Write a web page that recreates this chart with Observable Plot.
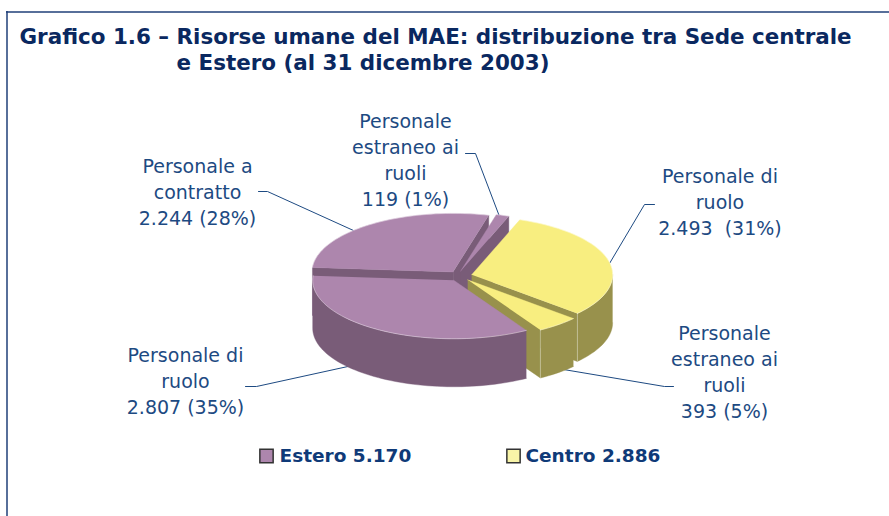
<!DOCTYPE html>
<html lang="it">
<head>
<meta charset="utf-8">
<script src="https://cdn.jsdelivr.net/npm/d3@7"></script>
<script src="https://cdn.jsdelivr.net/npm/@observablehq/plot@0.6"></script>
<style>
html,body{margin:0;padding:0;background:#fff}
svg{display:block}
</style>
</head>
<body>
<div id="chart"></div>
<script>
// ---- data (clockwise, starting from the yellow block) ----
const sliceNames = ["Personale di\nruolo", "Personale\nestraneo ai\nruoli", "Personale di\nruolo", "Personale a\ncontratto", "Personale\nestraneo ai\nruoli"];
const sliceValues = [2493, 393, 2807, 2244, 119];
const sliceGroups = ["Centro", "Centro", "Estero", "Estero", "Estero"];
const groupNames = ["Estero", "Centro"];
const groupTotals = [5170, 2886];
const titleLines = ["Grafico 1.6 – Risorse umane del MAE: distribuzione tra Sede centrale", "e Estero (al 31 dicembre 2003)"];

// ---- styling and layout ----
const W = 889, H = 516;
const topColor = {Estero: "#ad86ad", Centro: "#f8ee80"};
const wallColor = {Estero: "#795c78", Centro: "#98914c"};
const legendColor = {Estero: "#ad86ad", Centro: "#f8f4a8"};
const navy = "#0a2860", blue = "#1d4a82", legendBlue = "#0f3a78";
const pie = {cx: 459.5, cy: 275.5, rx: 141, ry: 58.5, depth: 48, ex: 12, ey: 5, start: 20};
// label centre, leader-line path and small origin nudge, one per slice
const labelLayout = [
  {x: 719.5, y: 200.5, leader: [[654, 204], [644, 204], [609, 263]], gap: "  ", nudge: 0},
  {x: 724, y: 370, leader: [[673, 386], [664, 386], [563, 369]], gap: " ", nudge: 0},
  {x: 185, y: 379, leader: [[245, 386], [256, 386], [352, 365]], gap: " ", nudge: 0},
  {x: 197, y: 190, leader: [[258, 191], [267, 191], [353, 230]], gap: " ", nudge: 0},
  {x: 405, y: 158, leader: [[465, 153], [475, 153], [499, 216]], gap: " ", nudge: -3}
];

const fmt = d3.formatLocale({decimal: ",", thousands: ".", grouping: [3], currency: ["", ""]}).format(",");
const total = d3.sum(sliceValues);
const rad = d => d * Math.PI / 180;

// cumulative angles from the values
let cursor = pie.start;
const slices = sliceValues.map((v, i) => {
  const a0 = cursor, a1 = cursor + v / total * 360;
  cursor = a1;
  const mid = rad((a0 + a1) / 2);
  return {i, value: v, group: sliceGroups[i], a0, a1,
          ox: pie.cx + pie.ex * Math.sin(mid) + labelLayout[i].nudge, oy: pie.cy - pie.ey * Math.cos(mid)};
});
const px = (s, a) => s.ox + pie.rx * Math.sin(rad(a));
const py = (s, a) => s.oy - pie.ry * Math.cos(rad(a));
const arc = (a0, a1) => {
  const n = Math.max(2, Math.ceil(Math.abs(a1 - a0) / 2));
  return d3.range(n + 1).map(k => a0 + (a1 - a0) * k / n);
};

// faces, painted back to front
const paintOrder = [3, 4, 0, 1, 2];
const faces = [], rims = [];
let faceId = 0, rimId = 0;
function addFace(pts, color) {
  const id = faceId++;
  pts.forEach(([x, y]) => faces.push({face: id, x, y, color}));
}
function addRim(pts) {
  const id = rimId++;
  pts.forEach(([x, y]) => rims.push({rim: id, x, y}));
}
for (const idx of paintOrder) {
  const s = slices[idx];
  const wall = wallColor[s.group], top = topColor[s.group];
  // cut walls that face the viewer
  if (Math.sin(rad(s.a0)) < 0) addFace([[s.ox, s.oy], [px(s, s.a0), py(s, s.a0)], [px(s, s.a0), py(s, s.a0) + pie.depth], [s.ox, s.oy + pie.depth]], wall);
  if (Math.sin(rad(s.a1)) > 0) {
    addFace([[s.ox, s.oy], [px(s, s.a1), py(s, s.a1)], [px(s, s.a1), py(s, s.a1) + pie.depth], [s.ox, s.oy + pie.depth]], wall);
    if (s.a1 % 360 > 90) addRim([[px(s, s.a1), py(s, s.a1)], [px(s, s.a1), py(s, s.a1) + pie.depth]]);
  }
  // outer wall: front half only
  const f0 = Math.max(s.a0, 90), f1 = Math.min(s.a1, 270);
  if (f1 > f0) {
    const as = arc(f0, f1);
    addFace([...as.map(a => [px(s, a), py(s, a)]), ...as.slice().reverse().map(a => [px(s, a), py(s, a) + pie.depth])], wall);
  }
  // top
  const as = arc(s.a0, s.a1);
  addFace([[s.ox, s.oy], ...as.map(a => [px(s, a), py(s, a)])], top);
  addRim(as.map(a => [px(s, a), py(s, a)]));
}

const labels = slices.map((s, i) => ({
  x: labelLayout[i].x, y: labelLayout[i].y,
  text: sliceNames[i] + "\n" + fmt(s.value) + labelLayout[i].gap + "(" + Math.round(s.value / total * 100) + "%)"
}));
const leaders = labelLayout.flatMap((l, i) => l.leader.map(([x, y]) => ({i, x, y})));
const legend = groupNames.map((g, i) => ({g, text: g + " " + fmt(groupTotals[i]), bx: [266, 513][i], tx: [279, 525][i], y: 455.5}));
const titles = [
  {text: titleLines[0], x: 19, y: 36.5},
  {text: titleLines[1], x: 176, y: 62.5}
];

const chart = Plot.plot({
  width: W, height: H,
  margin: 0,
  x: {domain: [0, W], range: [0, W], axis: null},
  y: {domain: [0, H], range: [0, H], axis: null},
  color: {type: "identity"},
  style: {background: "#fff", fontFamily: "'DejaVu Sans', Verdana, sans-serif"},
  marks: [
    Plot.ruleY([11.5], {x1: 6, x2: W, stroke: "#1f3f78", strokeWidth: 1.5}),
    Plot.ruleX([6.5], {y1: 11, y2: H, stroke: "#1f3f78", strokeWidth: 1.5}),
    Plot.text(titles, {x: "x", y: "y", text: "text", textAnchor: "start", fontSize: 21.45, fontWeight: "bold", fill: navy}),
    Plot.line(leaders, {x: "x", y: "y", z: "i", stroke: blue, strokeWidth: 1}),
    Plot.line(faces, {x: "x", y: "y", z: "face", fill: "color", stroke: "color", strokeWidth: 0.4}),
    Plot.line(rims, {x: "x", y: "y", z: "rim", stroke: "#fff", strokeOpacity: 0.45, strokeWidth: 0.8}),
    Plot.text(labels, {x: "x", y: "y", text: "text", fontSize: 19, lineHeight: 1.37, fill: blue, textAnchor: "middle"}),
    Plot.dot(legend, {x: "bx", y: "y", symbol: "square", r: 7.5, fill: d => legendColor[d.g], stroke: "#333", strokeWidth: 1.5}),
    Plot.text(legend, {x: "tx", y: "y", text: "text", textAnchor: "start", fontSize: 18.5, fontWeight: "bold", fill: legendBlue})
  ]
});
document.getElementById("chart").append(chart);
</script>
</body>
</html>
